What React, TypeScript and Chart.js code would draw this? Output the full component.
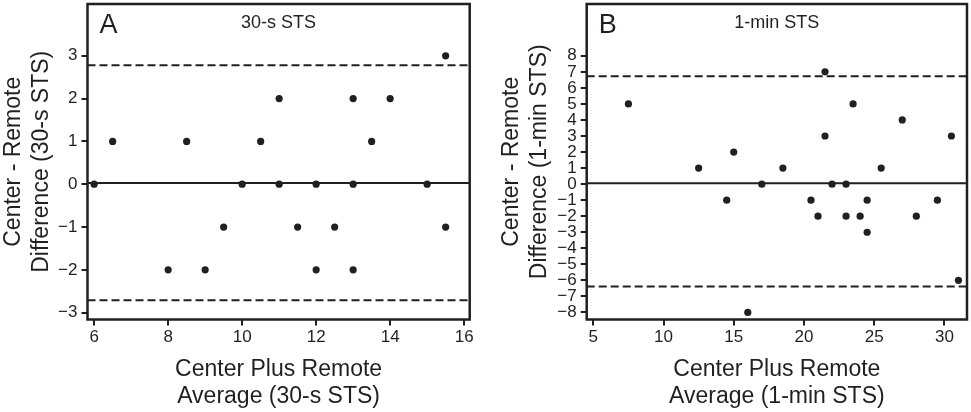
import { useEffect, useRef } from "react";
import { Chart, registerables } from "chart.js";

Chart.register(...registerables);

const INK = "#231f20";
const FONT = "'Liberation Sans', Arial, Helvetica, sans-serif";

// Panel A: 30-s STS
const avgA = [6, 6.5, 8, 8.5, 9, 9.5, 10, 10.5, 11, 11, 11.5, 12, 12, 12.5, 13, 13, 13, 13.5, 14, 15, 15.5, 15.5];
const diffA = [0, 1, -2, 1, -2, -1, 0, 1, 2, 0, -1, 0, -2, -1, 2, 0, -2, 1, 2, 0, 3, -1];
const meanA = 0.03;
const upperA = 2.78;
const lowerA = -2.71;
const xTicksA = [6, 8, 10, 12, 14, 16];
const yTicksA = [-3, -2, -1, 0, 1, 2, 3];

// Panel B: 1-min STS
const avgB = [7.5, 12.5, 14.5, 15, 16, 17, 18.5, 20.5, 21, 21.5, 21.5, 22, 23, 23, 23.5, 24, 24.5, 24.5, 25.5, 27, 28, 29.5, 30.5, 31];
const diffB = [5, 1, -1, 2, -8, 0, 1, -1, -2, 7, 3, 0, 0, -2, 5, -2, -1, -3, 1, 4, -2, -1, 3, -6];
const meanB = 0.06;
const upperB = 6.72;
const lowerB = -6.38;
const xTicksB = [5, 10, 15, 20, 25, 30];
const yTicksB = [-8, -7, -6, -5, -4, -3, -2, -1, 0, 1, 2, 3, 4, 5, 6, 7, 8];

const framePlugin = {
  id: "frame",
  afterDatasetsDraw(chart: any) {
    const { ctx, chartArea: a } = chart;
    ctx.save();
    ctx.strokeStyle = INK;
    ctx.lineWidth = 2.5;
    ctx.strokeRect(a.left, a.top, a.right - a.left, a.bottom - a.top);
    ctx.restore();
  },
};

const panelTextPlugin = {
  id: "panelText",
  afterDraw(chart: any, _args: any, opts: any) {
    const { ctx, chartArea: a } = chart;
    ctx.save();
    ctx.fillStyle = INK;
    ctx.textAlign = "center";
    ctx.textBaseline = "middle";
    ctx.font = `27px ${FONT}`;
    ctx.fillText(opts.letter, a.left + 21, a.top + 22);
    ctx.font = `18px ${FONT}`;
    ctx.fillText(opts.sub, (a.left + a.right) / 2, a.top + 19);
    ctx.restore();
  },
};

const fmt = (v: number) => (v < 0 ? "\u2212" + Math.abs(v) : String(v));

interface PanelProps {
  letter: string;
  sub: string;
  xs: number[];
  ys: number[];
  mean: number;
  upper: number;
  lower: number;
  xTicks: number[];
  yTicks: number[];
  xRange: [number, number];
  yRange: [number, number];
  xTitle: string[];
  yTitle: string[];
  yWidth: number;
  yTitlePad: number;
  padRight: number;
}

function Panel(p: PanelProps) {
  const canvasRef = useRef<HTMLCanvasElement>(null);
  const chartRef = useRef<Chart | null>(null);

  useEffect(() => {
    if (!canvasRef.current) return;
    if (chartRef.current) chartRef.current.destroy();

    const [x0, x1] = p.xRange;
    const hline = (y: number, dash: number[]) => ({
      data: [
        { x: x0, y },
        { x: x1, y },
      ],
      showLine: true,
      borderColor: INK,
      borderWidth: 2,
      borderDash: dash,
      pointRadius: 0,
      order: 2,
    });

    const grid = {
      drawOnChartArea: false,
      drawTicks: true,
      tickLength: 6,
      color: INK,
      lineWidth: 2,
    };

    chartRef.current = new Chart(canvasRef.current, {
      type: "scatter",
      data: {
        datasets: [
          {
            data: p.xs.map((x, i) => ({ x, y: p.ys[i] })),
            backgroundColor: INK,
            borderColor: INK,
            borderWidth: 0,
            pointRadius: 3.6,
            order: 1,
          },
          hline(p.mean, []),
          hline(p.upper, [8, 4]),
          hline(p.lower, [8, 4]),
        ] as any,
      },
      options: {
        animation: false,
        responsive: true,
        maintainAspectRatio: false,
        layout: { padding: { top: 1, right: p.padRight, left: 0, bottom: 0 } },
        plugins: {
          legend: { display: false },
          tooltip: { enabled: false },
          panelText: { letter: p.letter, sub: p.sub },
        } as any,
        scales: {
          x: {
            type: "linear",
            min: x0,
            max: x1,
            afterBuildTicks: (s: any) => {
              s.ticks = p.xTicks.map((value) => ({ value }));
            },
            afterFit: (s: any) => {
              s.height = 92.5;
              s.paddingLeft = 0;
              s.paddingRight = 0;
            },
            ticks: {
              autoSkip: false,
              maxRotation: 0,
              padding: 2,
              color: INK,
              font: { family: FONT, size: 17 },
              callback: (v: any) => fmt(Number(v)),
            },
            grid,
            border: { display: false },
            title: {
              display: true,
              text: p.xTitle,
              color: INK,
              font: { family: FONT, size: 23, lineHeight: 27 / 23 },
              padding: { top: 0, bottom: 1.5 },
            },
          },
          y: {
            type: "linear",
            min: p.yRange[0],
            max: p.yRange[1],
            afterBuildTicks: (s: any) => {
              s.ticks = p.yTicks.map((value) => ({ value }));
            },
            afterFit: (s: any) => {
              s.width = p.yWidth;
              s.paddingTop = 0;
              s.paddingBottom = 0;
            },
            ticks: {
              autoSkip: false,
              padding: 4,
              color: INK,
              font: { family: FONT, size: 17 },
              callback: (v: any) => fmt(Number(v)),
            },
            grid,
            border: { display: false },
            title: {
              display: true,
              text: p.yTitle,
              color: INK,
              font: { family: FONT, size: 23, lineHeight: 28 / 23 },
              padding: { top: p.yTitlePad, bottom: 0 },
            },
          },
        },
      },
      plugins: [framePlugin, panelTextPlugin],
    });

    return () => {
      chartRef.current?.destroy();
      chartRef.current = null;
    };
  }, []);

  return <canvas ref={canvasRef} />;
}

export default function App() {
  return (
    <div style={{ position: "fixed", left: 0, top: 0, width: 971, height: 412, background: "#fff" }}>
      <div style={{ position: "absolute", left: 0, top: 0, width: 480, height: 412 }}>
        <Panel
          letter="A"
          sub="30-s STS"
          xs={avgA}
          ys={diffA}
          mean={meanA}
          upper={upperA}
          lower={lowerA}
          xTicks={xTicksA}
          yTicks={yTicksA}
          xRange={[5.82, 16.15]}
          yRange={[-3.16, 4.21]}
          xTitle={["Center Plus Remote", "Average (30-s STS)"]}
          yTitle={["Center - Remote", "Difference (30-s STS)"]}
          yWidth={87.5}
          yTitlePad={0}
          padRight={10.3}
        />
      </div>
      <div style={{ position: "absolute", left: 480, top: 0, width: 491, height: 412 }}>
        <Panel
          letter="B"
          sub="1-min STS"
          xs={avgB}
          ys={diffB}
          mean={meanB}
          upper={upperB}
          lower={lowerB}
          xTicks={xTicksB}
          yTicks={yTicksB}
          xRange={[4.53, 31.61]}
          yRange={[-8.44, 11.23]}
          xTitle={["Center Plus Remote", "Average (1-min STS)"]}
          yTitle={["Center - Remote", "Difference (1-min STS)"]}
          yWidth={106.7}
          yTitlePad={18}
          padRight={1.5}
        />
      </div>
    </div>
  );
}
